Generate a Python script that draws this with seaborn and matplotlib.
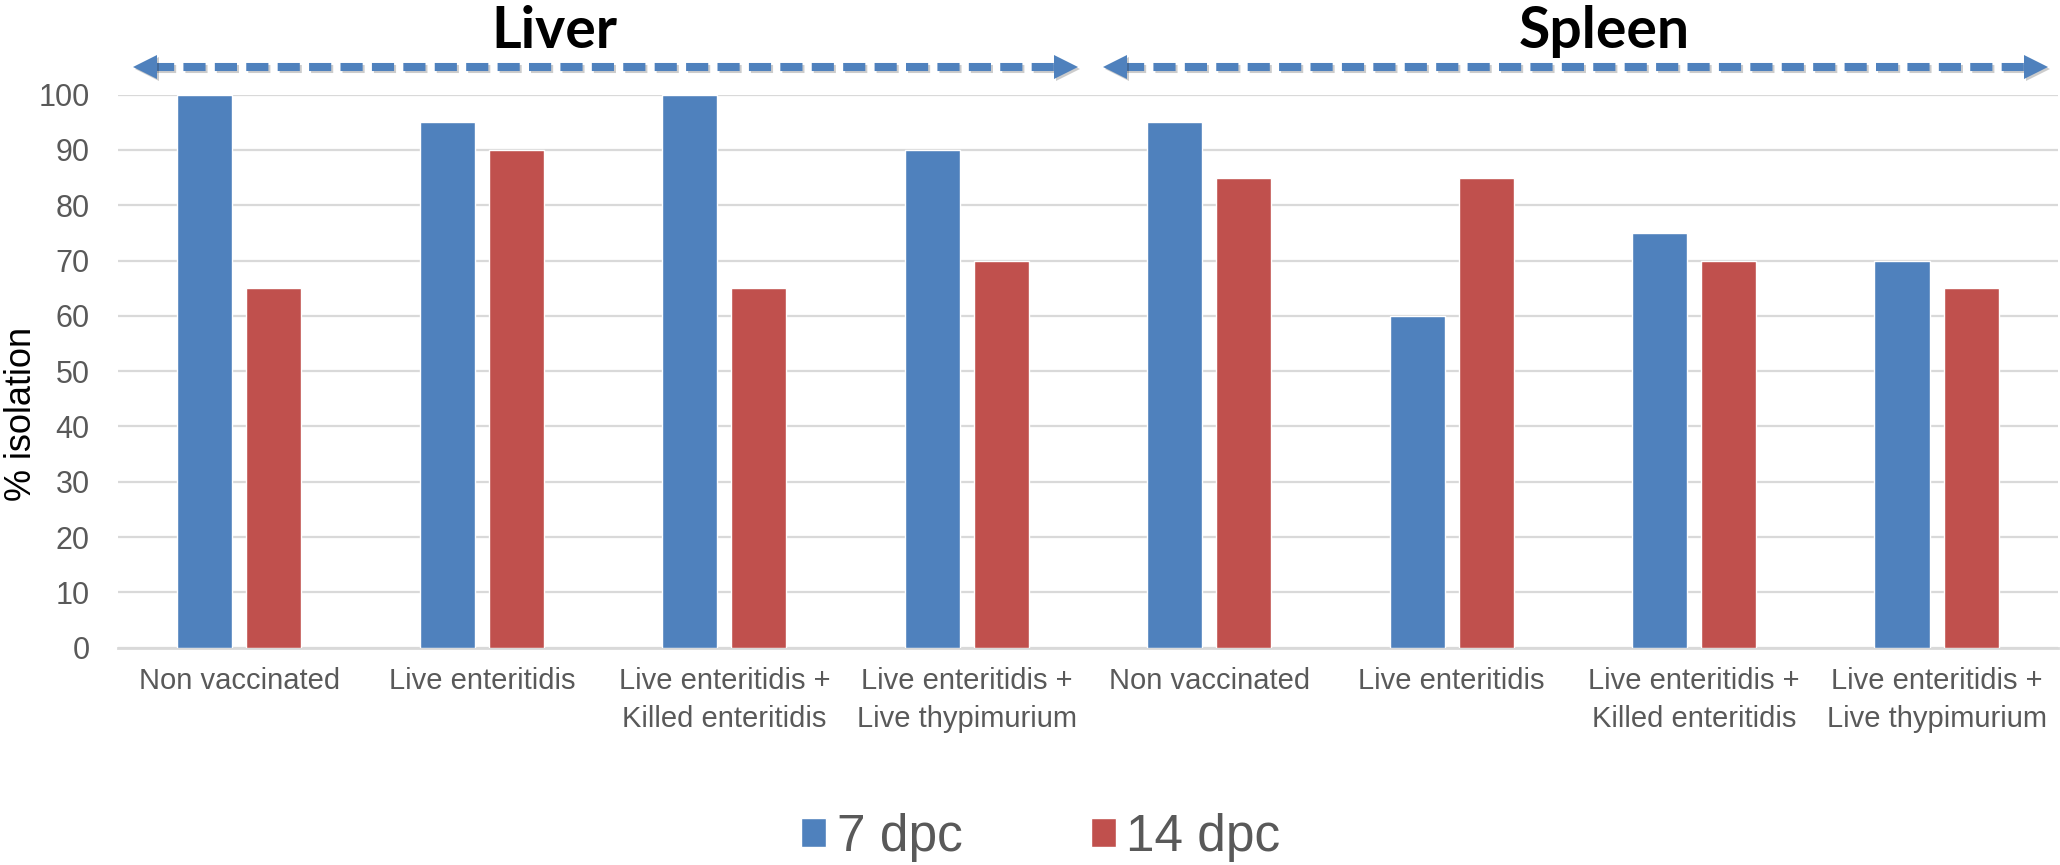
import pandas as pd
import matplotlib
matplotlib.use("Agg")
import matplotlib.pyplot as plt
import matplotlib.patheffects as pe
import seaborn as sns

# Salmonella isolation (%) per organ and vaccination scheme
organs = ["Liver", "Spleen"]
treatments = ["Non vaccinated", "Live enteritidis",
              "Live enteritidis +\nKilled enteritidis",
              "Live enteritidis +\nLive thypimurium"]
timepoints = ["7 dpc", "14 dpc"]
liver_7dpc = [100, 95, 100, 90]
liver_14dpc = [65, 90, 65, 70]
spleen_7dpc = [95, 60, 75, 70]
spleen_14dpc = [85, 85, 70, 65]
y_ticks = [0, 10, 20, 30, 40, 50, 60, 70, 80, 90, 100]

BLUE = "#4F81BD"
RED = "#C0504D"
GREY_TEXT = "#595959"
GRID = "#D9D9D9"

rows = []
for organ, v7, v14 in [("Liver", liver_7dpc, liver_14dpc),
                       ("Spleen", spleen_7dpc, spleen_14dpc)]:
    for t, a, b in zip(treatments, v7, v14):
        key = f"{organ}: {t}"
        rows.append((key, timepoints[0], a))
        rows.append((key, timepoints[1], b))
df = pd.DataFrame(rows, columns=["group", "time", "isolation"])
order = list(dict.fromkeys(df["group"]))

sns.set_theme(style="white")
plt.rcParams["font.family"] = ["Liberation Sans", "DejaVu Sans"]

fig = plt.figure(figsize=(20.6, 8.65), dpi=100)
ax = fig.add_axes([0.0573, 0.2512, 0.9417, 0.6394])

sns.barplot(data=df, x="group", y="isolation", hue="time", order=order,
            hue_order=timepoints, palette=[BLUE, RED], width=0.57, gap=0.2,
            saturation=1, ax=ax, zorder=3)

# organ headers with dashed double-headed span arrows
n = len(treatments)
arrow_y = 105
shadow_line = [pe.SimpleLineShadow(offset=(1.5, -1.5), shadow_color="k", alpha=0.22),
               pe.Normal()]
shadow_patch = [pe.SimplePatchShadow(offset=(1.5, -1.5), shadow_rgbFace="k", alpha=0.22),
                pe.Normal()]
title_x = [1.3, 5.63]
for i, organ in enumerate(organs):
    x0 = i * n - 0.44
    x1 = (i + 1) * n - 1 + 0.46
    ax.plot([x0 + 0.08, x1 - 0.08], [arrow_y, arrow_y], color=BLUE, lw=5.8,
            linestyle=(0, (2.75, 1.15)), solid_capstyle="butt",
            clip_on=False, path_effects=shadow_line, zorder=5)
    ax.plot([x0 + 0.05], [arrow_y], marker="<", ms=17.5, color=BLUE, mew=0,
            clip_on=False, path_effects=shadow_patch, zorder=6)
    ax.plot([x1 - 0.05], [arrow_y], marker=">", ms=17.5, color=BLUE, mew=0,
            clip_on=False, path_effects=shadow_patch, zorder=6)
    ax.text(title_x[i], 108.4, organ, family=["Lato", "DejaVu Sans"],
            fontweight="bold", fontsize=41, ha="center", va="baseline",
            color="black", clip_on=False)

ax.set_xlim(-0.5, len(order) - 0.5)
ax.set_ylim(0, 100)
ax.set_yticks(y_ticks)
ax.set_axisbelow(True)
ax.yaxis.grid(True, color=GRID, linewidth=1.6)
ax.xaxis.grid(False)
for side in ["top", "left", "right"]:
    ax.spines[side].set_visible(False)
ax.spines["bottom"].set_color(GRID)
ax.spines["bottom"].set_linewidth(2)

ax.set_xticks(range(len(order)))
ax.set_xticklabels(treatments * len(organs), fontsize=21, color=GREY_TEXT,
                   linespacing=1.45)
ax.tick_params(axis="x", length=0, pad=14)
ax.tick_params(axis="y", length=0, pad=20.5, labelsize=22, labelcolor=GREY_TEXT)
ax.set_xlabel("")
ax.set_ylabel("% isolation", fontsize=26, color="black", va="center")
ax.yaxis.set_label_coords(-0.05, 0.4226)

sns.move_legend(ax, "center", bbox_to_anchor=(0.5053, 0.032),
                bbox_transform=fig.transFigure, ncol=2, frameon=False,
                title=None, fontsize=37, handlelength=0.49, handleheight=0.49,
                handletextpad=0.2, columnspacing=2.5, labelcolor=GREY_TEXT)

fig.savefig("out.png", dpi=100)
